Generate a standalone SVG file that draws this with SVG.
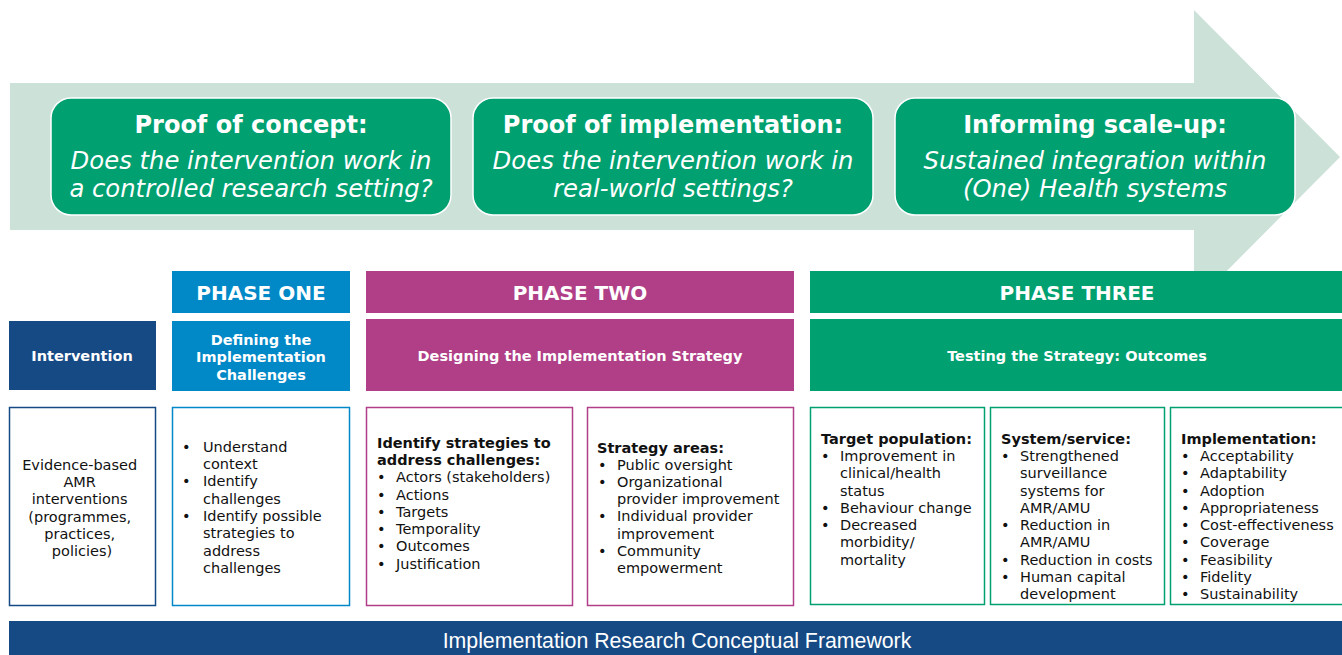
<svg xmlns="http://www.w3.org/2000/svg" width="1342" height="655" viewBox="0 0 1342 655">
<style>
.hb{font-family:"DejaVu Sans",Verdana,sans-serif;font-weight:bold;fill:#fff;text-anchor:middle}
.ti{font-family:"DejaVu Sans",Verdana,sans-serif;font-style:italic;font-size:24.3px;fill:#fff;text-anchor:middle}
.bt{font-family:"DejaVu Sans",Verdana,sans-serif;font-size:14.5px;fill:#111}
.bh{font-weight:bold}
.c{text-anchor:middle}
.gbox{fill:#00A070;stroke:#fff;stroke-width:1.5}
.cb{fill:#fff;stroke-width:1.5}
</style>
<g id="arrow">
<polygon points="10,83 1194,83 1194,10 1340,157 1194,304 1194,230 10,230" fill="#CCE1D8"/>
</g>
<g id="box-concept">
<rect class="gbox" x="51" y="98" width="400" height="117" rx="20"/>
<text class="hb" x="251" y="133" font-size="24">Proof of concept:</text>
<text class="ti" x="251" y="168.5">Does the intervention work in</text>
<text class="ti" x="251" y="197">a controlled research setting?</text>
</g>
<g id="box-implementation">
<rect class="gbox" x="473" y="98" width="400" height="117" rx="20"/>
<text class="hb" x="673" y="133" font-size="24">Proof of implementation:</text>
<text class="ti" x="673" y="168.5">Does the intervention work in</text>
<text class="ti" x="673" y="197">real-world settings?</text>
</g>
<g id="box-scaleup">
<rect class="gbox" x="895" y="98" width="400" height="117" rx="20"/>
<text class="hb" x="1095" y="133" font-size="24">Informing scale-up:</text>
<text class="ti" x="1095" y="168.5">Sustained integration within</text>
<text class="ti" x="1095" y="197">(One) Health systems</text>
</g>
<g id="phase-one">
<rect x="172" y="271" width="178" height="42" fill="#0088C7"/>
<text class="hb" x="261" y="300" font-size="20">PHASE ONE</text>
</g>
<g id="phase-two">
<rect x="366" y="271" width="428" height="42" fill="#B03F87"/>
<text class="hb" x="580" y="300" font-size="20">PHASE TWO</text>
</g>
<g id="phase-three">
<rect x="810" y="271" width="532" height="42" fill="#00A070"/>
<text class="hb" x="1077" y="300" font-size="20">PHASE THREE</text>
</g>
<g id="intervention">
<rect x="9" y="321" width="147" height="69" fill="#164A85"/>
<text class="hb" x="82" y="361" font-size="14.5">Intervention</text>
</g>
<g id="defining">
<rect x="172" y="321" width="178" height="70" fill="#0088C7"/>
<text class="hb" x="261" y="345" font-size="14.5">Defining the</text>
<text class="hb" x="261" y="362" font-size="14.5">Implementation</text>
<text class="hb" x="261" y="380" font-size="14.5">Challenges</text>
</g>
<g id="designing">
<rect x="366" y="319" width="428" height="72" fill="#B03F87"/>
<text class="hb" x="580" y="361" font-size="14.5">Designing the Implementation Strategy</text>
</g>
<g id="testing">
<rect x="810" y="319" width="532" height="72" fill="#00A070"/>
<text class="hb" x="1077" y="361" font-size="14.5">Testing the Strategy: Outcomes</text>
</g>
<g id="evidence-box">
<rect class="cb" x="9.5" y="407.5" width="146" height="198" stroke="#164A85"/>
<text class="bt c" x="82">
<tspan x="82" y="470">Evidence-based</tspan>
<tspan x="82" y="487">AMR</tspan>
<tspan x="82" y="504">interventions</tspan>
<tspan x="82" y="522">(programmes,</tspan>
<tspan x="82" y="539">practices,</tspan>
<tspan x="82" y="556">policies)</tspan>
</text>
</g>
<g id="challenges-box">
<rect class="cb" x="172.5" y="407.5" width="177" height="198" stroke="#0088C7"/>
<text class="bt">
<tspan x="182" y="452">•</tspan><tspan x="203" y="452">Understand</tspan>
<tspan x="203" y="469">context</tspan>
<tspan x="182" y="486">•</tspan><tspan x="203" y="486">Identify</tspan>
<tspan x="203" y="504">challenges</tspan>
<tspan x="182" y="521">•</tspan><tspan x="203" y="521">Identify possible</tspan>
<tspan x="203" y="538">strategies to</tspan>
<tspan x="203" y="556">address</tspan>
<tspan x="203" y="573">challenges</tspan>
</text>
</g>
<g id="strategies-box">
<rect class="cb" x="366.5" y="407.5" width="206" height="198" stroke="#B03F87"/>
<text class="bt">
<tspan class="bh" x="377" y="448">Identify strategies to</tspan>
<tspan class="bh" x="377" y="465">address challenges:</tspan>
<tspan x="377" y="482">•</tspan><tspan x="396" y="482">Actors (stakeholders)</tspan>
<tspan x="377" y="500">•</tspan><tspan x="396" y="500">Actions</tspan>
<tspan x="377" y="517">•</tspan><tspan x="396" y="517">Targets</tspan>
<tspan x="377" y="534">•</tspan><tspan x="396" y="534">Temporality</tspan>
<tspan x="377" y="551">•</tspan><tspan x="396" y="551">Outcomes</tspan>
<tspan x="377" y="569">•</tspan><tspan x="396" y="569">Justification</tspan>
</text>
</g>
<g id="areas-box">
<rect class="cb" x="587.5" y="407.5" width="206" height="198" stroke="#B03F87"/>
<text class="bt">
<tspan class="bh" x="597" y="453">Strategy areas:</tspan>
<tspan x="598" y="470">•</tspan><tspan x="617" y="470">Public oversight</tspan>
<tspan x="598" y="487">•</tspan><tspan x="617" y="487">Organizational</tspan>
<tspan x="617" y="504">provider improvement</tspan>
<tspan x="598" y="521">•</tspan><tspan x="617" y="521">Individual provider</tspan>
<tspan x="617" y="539">improvement</tspan>
<tspan x="598" y="556">•</tspan><tspan x="617" y="556">Community</tspan>
<tspan x="617" y="573">empowerment</tspan>
</text>
</g>
<g id="target-box">
<rect class="cb" x="810.5" y="407.5" width="174" height="197" stroke="#00A070"/>
<text class="bt">
<tspan class="bh" x="821" y="444">Target population:</tspan>
<tspan x="821" y="461">•</tspan><tspan x="840" y="461">Improvement in</tspan>
<tspan x="840" y="478">clinical/health</tspan>
<tspan x="840" y="496">status</tspan>
<tspan x="821" y="513">•</tspan><tspan x="840" y="513">Behaviour change</tspan>
<tspan x="821" y="530">•</tspan><tspan x="840" y="530">Decreased</tspan>
<tspan x="840" y="547">morbidity/</tspan>
<tspan x="840" y="565">mortality</tspan>
</text>
</g>
<g id="system-box">
<rect class="cb" x="990.5" y="407.5" width="174" height="197" stroke="#00A070"/>
<text class="bt">
<tspan class="bh" x="1001" y="444">System/service:</tspan>
<tspan x="1001" y="461">•</tspan><tspan x="1020" y="461">Strengthened</tspan>
<tspan x="1020" y="478">surveillance</tspan>
<tspan x="1020" y="496">systems for</tspan>
<tspan x="1020" y="513">AMR/AMU</tspan>
<tspan x="1001" y="530">•</tspan><tspan x="1020" y="530">Reduction in</tspan>
<tspan x="1020" y="547">AMR/AMU</tspan>
<tspan x="1001" y="565">•</tspan><tspan x="1020" y="565">Reduction in costs</tspan>
<tspan x="1001" y="582">•</tspan><tspan x="1020" y="582">Human capital</tspan>
<tspan x="1020" y="599">development</tspan>
</text>
</g>
<g id="implementation-box">
<rect class="cb" x="1170.5" y="407.5" width="180" height="197" stroke="#00A070"/>
<text class="bt">
<tspan class="bh" x="1181" y="444">Implementation:</tspan>
<tspan x="1181" y="461">•</tspan><tspan x="1200" y="461">Acceptability</tspan>
<tspan x="1181" y="478">•</tspan><tspan x="1200" y="478">Adaptability</tspan>
<tspan x="1181" y="496">•</tspan><tspan x="1200" y="496">Adoption</tspan>
<tspan x="1181" y="513">•</tspan><tspan x="1200" y="513">Appropriateness</tspan>
<tspan x="1181" y="530">•</tspan><tspan x="1200" y="530">Cost-effectiveness</tspan>
<tspan x="1181" y="547">•</tspan><tspan x="1200" y="547">Coverage</tspan>
<tspan x="1181" y="565">•</tspan><tspan x="1200" y="565">Feasibility</tspan>
<tspan x="1181" y="582">•</tspan><tspan x="1200" y="582">Fidelity</tspan>
<tspan x="1181" y="599">•</tspan><tspan x="1200" y="599">Sustainability</tspan>
</text>
</g>
<g id="banner">
<rect x="9" y="621" width="1340" height="40" fill="#164A85"/>
<text x="677" y="648" font-family="'Liberation Sans',Arial,sans-serif" font-size="21.3" fill="#fff" text-anchor="middle">Implementation Research Conceptual Framework</text>
</g>
<g id="connectors"/>
</svg>
